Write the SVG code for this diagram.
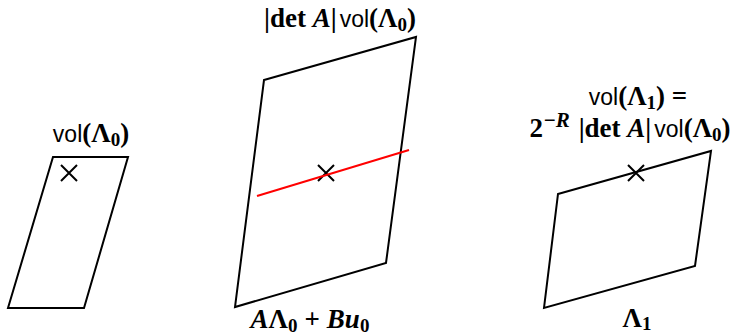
<svg xmlns="http://www.w3.org/2000/svg" width="738" height="336" viewBox="0 0 738 336">
<style>
.shape{fill:none;stroke:#000;stroke-width:2;stroke-linejoin:miter}
.mark{stroke:#000;stroke-width:2}
.red{stroke:#ff0000;stroke-width:2}
.lbl{font-family:"Liberation Serif",serif;font-weight:bold;font-size:27px;fill:#000}
.sans{font-family:"Liberation Sans",sans-serif;font-weight:normal;font-size:23px}
.it{font-style:italic}
.sub{font-size:19px}
.sup{font-size:21px}
</style>
<rect width="738" height="336" fill="#fff"/>
<g id="left">
<polygon class="shape" points="53,157 128,157 84,308 8,308"/>
<path class="mark" d="M61,165 L77,181 M77,165 L61,181"/>
<text class="lbl" x="91" y="142" text-anchor="middle"><tspan class="sans">vol</tspan>(Λ<tspan class="sub" dy="4">0</tspan><tspan dy="-4">)</tspan></text>
</g>
<g id="middle">
<polygon class="shape" points="264,80 416,37 386,263 235,307"/>
<path class="mark" d="M318,165 L334,181 M334,165 L318,181"/>
<text class="lbl" x="340" y="27" text-anchor="middle">|det <tspan class="it">A</tspan>|<tspan class="sans" dx="3">vol</tspan>(Λ<tspan class="sub" dy="4">0</tspan><tspan dy="-4">)</tspan></text>
<text class="lbl" x="310" y="328" text-anchor="middle"><tspan class="it">A</tspan>Λ<tspan class="sub" dy="4">0</tspan><tspan dy="-4" dx="7">+</tspan><tspan class="it" dx="7">Bu</tspan><tspan class="sub" dy="4">0</tspan></text>
</g>
<g id="right">
<polygon class="shape" points="558,194 711,151 695,266 544,308"/>
<path class="mark" d="M628,165 L644,181 M644,165 L628,181"/>
<text class="lbl" x="638" y="105" text-anchor="middle"><tspan class="sans">vol</tspan>(Λ<tspan class="sub" dy="4">1</tspan><tspan dy="-4">) =</tspan></text>
<text class="lbl" x="630" y="137" text-anchor="middle">2<tspan class="it sup" dy="-10">−R</tspan><tspan dy="10" dx="9">|det </tspan><tspan class="it">A</tspan>|<tspan class="sans" dx="3">vol</tspan>(Λ<tspan class="sub" dy="4">0</tspan><tspan dy="-4">)</tspan></text>
<text class="lbl" x="637" y="327" text-anchor="middle">Λ<tspan class="sub" dy="3">1</tspan></text>
</g>
<g id="connectors">
<line class="red" x1="257" y1="196" x2="409" y2="150"/>
</g>
</svg>
